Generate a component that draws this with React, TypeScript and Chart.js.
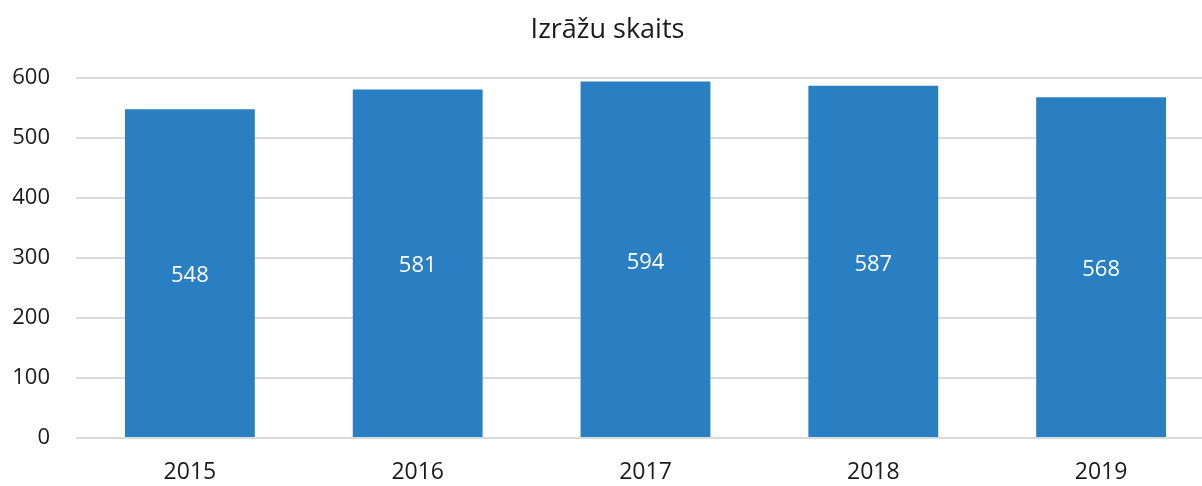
import React, { useEffect, useRef } from "react";
import { Chart, registerables } from "chart.js";

Chart.register(...registerables);

const categories = ["2015", "2016", "2017", "2018", "2019"];
const values = [548, 581, 594, 587, 568];
const titleText = "Izrāžu skaits";

const FONT = "'Open Sans', 'Noto Sans', sans-serif";

const barLabels = {
  id: "barLabels",
  afterDatasetsDraw(chart: any) {
    const ctx = chart.ctx;
    const meta = chart.getDatasetMeta(0);
    ctx.save();
    ctx.fillStyle = "#ffffff";
    ctx.font = `22px ${FONT}`;
    ctx.textAlign = "center";
    ctx.textBaseline = "middle";
    meta.data.forEach((bar: any, i: number) => {
      const y = (bar.y + bar.base) / 2 + 3;
      ctx.fillText(String(values[i]), bar.x, y);
    });
    ctx.restore();
  },
};

export default function App() {
  const ref = useRef<HTMLCanvasElement>(null);
  useEffect(() => {
    document.body.style.margin = "0";
    const chart = new Chart(ref.current!, {
      type: "bar",
      data: {
        labels: categories,
        datasets: [
          {
            data: values,
            backgroundColor: "#2a7fc3",
            barPercentage: 0.57,
            categoryPercentage: 1,
          },
        ],
      },
      options: {
        animation: false,
        responsive: false,
        layout: { padding: { left: 0, right: 13, top: 0, bottom: 0 } },
        plugins: {
          legend: { display: false },
          tooltip: { enabled: false },
          title: {
            display: true,
            text: titleText,
            color: "#1a1a1a",
            font: { family: FONT, size: 27, weight: "normal" },
            padding: { top: 14, bottom: 31.6 },
          },
        },
        scales: {
          x: {
            grid: { display: false },
            border: { display: false },
            ticks: {
              color: "#1a1a1a",
              font: { family: FONT, size: 23 },
              padding: 13,
            },
            afterFit(scale: any) {
              scale.height = 48;
            },
          },
          y: {
            min: 0,
            max: 600,
            ticks: {
              stepSize: 100,
              color: "#1a1a1a",
              font: { family: FONT, size: 22 },
              padding: 26,
            },
            grid: { color: "#dadada", lineWidth: 2, drawTicks: false },
            border: { display: false },
            afterFit(scale: any) {
              scale.width = 76;
            },
          },
        },
      },
      plugins: [barLabels],
    });
    return () => chart.destroy();
  }, []);
  return (
    <div style={{ width: 1202, height: 486, overflow: "hidden", position: "relative", background: "#fff" }}>
      <canvas ref={ref} width={1228} height={486} style={{ display: "block" }} />
    </div>
  );
}
